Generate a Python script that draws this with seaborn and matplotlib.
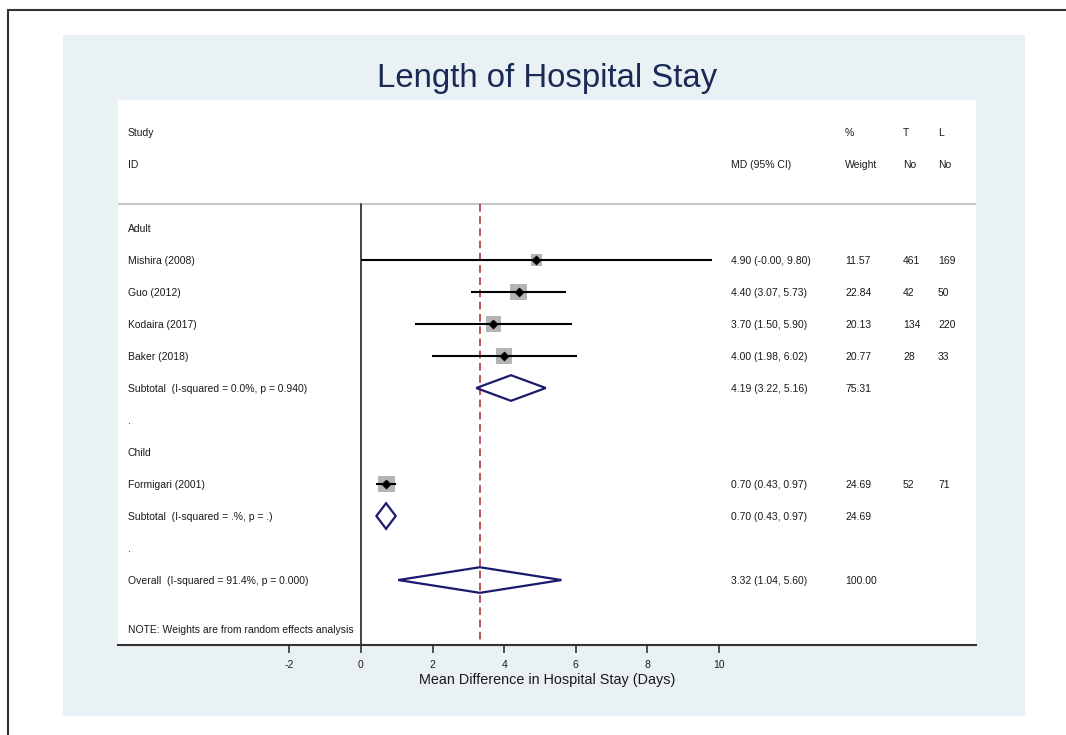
import numpy as np
import pandas as pd
import matplotlib
matplotlib.use("Agg")
import matplotlib.pyplot as plt
from matplotlib.patches import Rectangle, Polygon
from matplotlib.lines import Line2D
import matplotlib.transforms as mtransforms
import seaborn as sns

# ---------------- data ----------------
studies = ["Mishira (2008)", "Guo (2012)", "Kodaira (2017)", "Baker (2018)", "Formigari (2001)"]
study_group = ["Adult", "Adult", "Adult", "Adult", "Child"]
md = [4.90, 4.40, 3.70, 4.00, 0.70]
ci_lo = [-0.00, 3.07, 1.50, 1.98, 0.43]
ci_hi = [9.80, 5.73, 5.90, 6.02, 0.97]
weight = [11.57, 22.84, 20.13, 20.77, 24.69]
t_no = [461, 42, 134, 28, 52]
l_no = [169, 50, 220, 33, 71]

groups = ["Adult", "Child"]
sub_md = [4.19, 0.70]
sub_lo = [3.22, 0.43]
sub_hi = [5.16, 0.97]
sub_w = [75.31, 24.69]
sub_het = ["I-squared = 0.0%, p = 0.940", "I-squared = .%, p = ."]

overall_md = 3.32
overall_lo = 1.04
overall_hi = 5.60
overall_w = 100.00
overall_het = "I-squared = 91.4%, p = 0.000"

x_ticks = [-2, 0, 2, 4, 6, 8, 10]
title = "Length of Hospital Stay"
xlabel = "Mean Difference in Hospital Stay (Days)"
note = "NOTE: Weights are from random effects analysis"

# ---------------- style ----------------
sns.set_style("white")
plt.rcParams["font.family"] = ["Liberation Sans", "DejaVu Sans"]
TXT = "#1a1a1a"
NAVY = "#1a1a6e"
FS = 7.5

W, H = 1066, 735
fig = plt.figure(figsize=(W / 100, H / 100), dpi=100)
fig.patch.set_facecolor("white")

def fx(px):
    return px / W

def fy(py):
    return 1 - py / H

# outer frame (top + left only visible)
fig.add_artist(Line2D([fx(8), 1], [fy(10), fy(10)], color="#333333", lw=1.5, transform=fig.transFigure))
fig.add_artist(Line2D([fx(8), fx(8)], [fy(10), 0], color="#333333", lw=1.5, transform=fig.transFigure))
# light background panel
fig.add_artist(Rectangle((fx(63), fy(716)), fx(1025) - fx(63), fy(35) - fy(716),
                         transform=fig.transFigure, facecolor="#e9f1f4", edgecolor="none", zorder=0))

ax = fig.add_axes([fx(118), fy(645), fx(976) - fx(118), fy(100) - fy(645)])
ax.set_facecolor("white")

# ---------------- rows ----------------
rows = []  # (kind, label, idx)
y = 0
study_rows, sub_rows = {}, {}
for gi, g in enumerate(groups):
    rows.append(("group", g, y)); y += 1
    for si, s in enumerate(studies):
        if study_group[si] == g:
            study_rows[si] = y
            y += 1
    sub_rows[gi] = y; y += 1
    rows.append(("dot", ".", y)); y += 1
overall_row = y
note_row = y + 1.53
y_top, y_bottom = -4.0, y + 2.03
sep_y = -0.75

df = pd.DataFrame({
    "study": studies, "md": md, "lo": ci_lo, "hi": ci_hi, "weight": weight,
    "row": [study_rows[i] for i in range(len(studies))],
})

px_per_unit = 35.8
xmin = (118 - 361) / px_per_unit
xmax = (976 - 361) / px_per_unit
ax.set_xlim(xmin, xmax)
ax.set_ylim(y_bottom, y_top)

# red dashed overall line
ax.plot([overall_md, overall_md], [sep_y, y_bottom], color="#a8242a", lw=1.1,
        dashes=(5, 3), zorder=2)
# null line
ax.plot([0, 0], [sep_y, y_bottom], color="#333333", lw=1.3, zorder=2)
# header separator
ax.axhline(sep_y, color="#c8c8c8", lw=1.5, zorder=1)

# weight squares
wmax = max(weight)
sns.scatterplot(data=df, x="md", y="row", size="weight", sizes=(0, 6.0 * wmax),
                size_norm=(0, wmax), marker="s", color="#b4b4b4", edgecolor="none",
                legend=False, ax=ax, zorder=3)
# CI lines
ax.hlines(df["row"], df["lo"], df["hi"], color="black", lw=1.5, zorder=4)
# point estimates
sns.scatterplot(data=df, x="md", y="row", marker="D", color="black", s=22,
                edgecolor="black", legend=False, ax=ax, zorder=5)

def diamond(c, lo, hi, yy, h=0.4):
    ax.add_patch(Polygon([[lo, yy], [c, yy - h], [hi, yy], [c, yy + h]], closed=True,
                         fill=False, edgecolor=NAVY, lw=1.6, zorder=5))

for gi in range(len(groups)):
    diamond(sub_md[gi], sub_lo[gi], sub_hi[gi], sub_rows[gi])
diamond(overall_md, overall_lo, overall_hi, overall_row)

# ---------------- text columns ----------------
tr = mtransforms.blended_transform_factory(ax.transAxes, ax.transData)
cx_lab, cx_md, cx_w, cx_t, cx_l = 10 / 858, 613 / 858, 727 / 858, 785 / 858, 820 / 858
TOFF = 0.04

def put(x, yy, s):
    ax.text(x, yy + TOFF, s, transform=tr, fontsize=FS, color=TXT, va="center", ha="left")

put(cx_lab, -3, "Study")
put(cx_lab, -2, "ID")
put(cx_md, -2, "MD (95% CI)")
put(cx_w, -3, "%")
put(cx_w, -2, "Weight")
put(cx_t, -3, "T")
put(cx_t, -2, "No")
put(cx_l, -3, "L")
put(cx_l, -2, "No")

for kind, lab, yy in rows:
    put(cx_lab, yy, lab)

for i in range(len(studies)):
    yy = study_rows[i]
    put(cx_lab, yy, studies[i])
    put(cx_md, yy, f"{md[i]:.2f} ({ci_lo[i]:.2f}, {ci_hi[i]:.2f})")
    put(cx_w, yy, f"{weight[i]:.2f}")
    put(cx_t, yy, str(t_no[i]))
    put(cx_l, yy, str(l_no[i]))

for gi in range(len(groups)):
    yy = sub_rows[gi]
    put(cx_lab, yy, f"Subtotal  ({sub_het[gi]})")
    put(cx_md, yy, f"{sub_md[gi]:.2f} ({sub_lo[gi]:.2f}, {sub_hi[gi]:.2f})")
    put(cx_w, yy, f"{sub_w[gi]:.2f}")

put(cx_lab, overall_row, f"Overall  ({overall_het})")
put(cx_md, overall_row, f"{overall_md:.2f} ({overall_lo:.2f}, {overall_hi:.2f})")
put(cx_w, overall_row, f"{overall_w:.2f}")
put(cx_lab, note_row, note)

# ---------------- axes styling ----------------
for side in ["top", "left", "right"]:
    ax.spines[side].set_visible(False)
ax.spines["bottom"].set_color("#333333")
ax.spines["bottom"].set_linewidth(1.5)
ax.set_yticks([])
ax.set_xticks(x_ticks)
ax.set_xticklabels([str(t) for t in x_ticks])
ax.tick_params(axis="x", direction="out", length=6, width=1.2, color="#333333",
               labelsize=FS, labelcolor=TXT, pad=5, bottom=True)
ax.set_xlabel("")
ax.set_ylabel("")

fig.text(fx(547), fy(79), title, fontsize=23.7, color="#1a2a55", ha="center", va="center")
fig.text(fx(547), fy(680), xlabel, fontsize=10.4, color=TXT, ha="center", va="center")

fig.savefig("out.png", dpi=100, facecolor="white")
